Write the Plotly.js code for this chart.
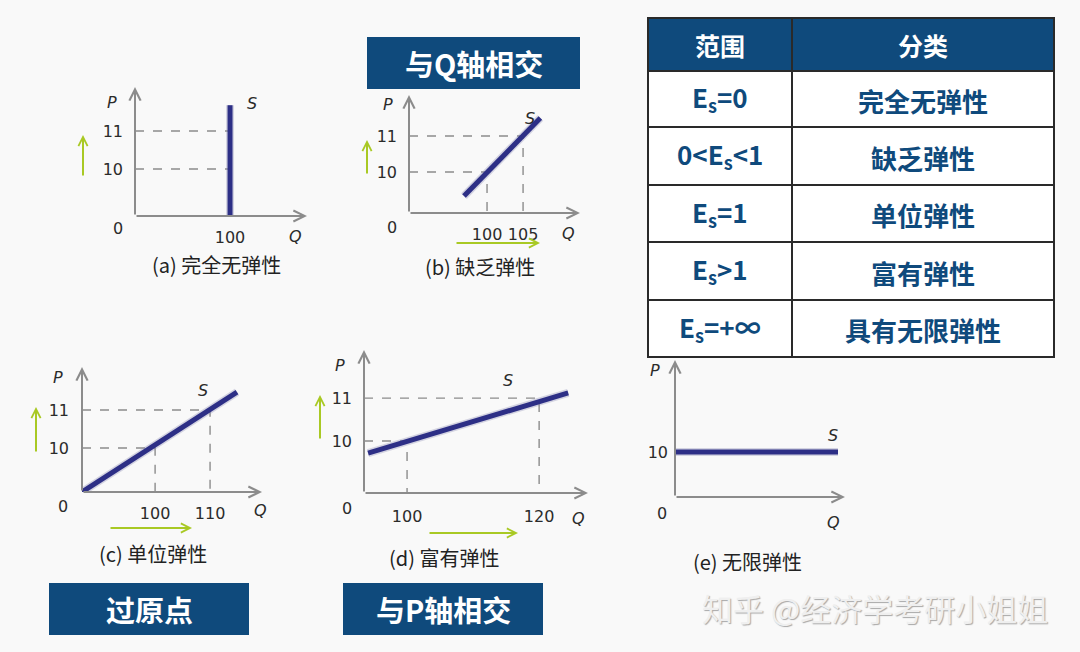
<!DOCTYPE html>
<html><head><meta charset="utf-8">
<script src="https://cdn.plot.ly/plotly-3.0.1.min.js"></script>
<style>html,body{margin:0;padding:0;background:#f9f9f9;} #chart{width:1080px;height:652px;}</style>
</head><body><div id="chart"></div>
<script>
// ---------- data ----------
// (a) 完全无弹性
const aSupplyQ = [100, 100];
const aSupplyP = [8.76, 11.68];
const aGuideQ = [100, 100];
const aGuideP = [10, 11];
const aQTicks = [100];
const aPTicks = [10, 11];
// (b) 缺乏弹性
const bSupplyQ = [96.8, 107.4];
const bSupplyP = [9.33, 11.5];
const bGuideQ = [100, 105];
const bGuideP = [10, 11];
const bQTicks = [100, 105];
const bPTicks = [10, 11];
// (c) 单位弹性
const cSupplyQ = [86.7, 114.9];
const cSupplyP = [8.84, 11.47];
const cGuideQ = [100, 110];
const cGuideP = [10, 11];
const cQTicks = [100, 110];
const cPTicks = [10, 11];
// (d) 富有弹性
const dSupplyQ = [94.1, 124.4];
const dSupplyP = [9.72, 11.12];
const dGuideQ = [100, 120];
const dGuideP = [10, 11];
const dQTicks = [100, 120];
const dPTicks = [10, 11];
// (e) 无限弹性
const eSupplyQ = [1, 163];
const eSupplyP = [10, 10];
const eGuideQ = [];
const eGuideP = [];
const eQTicks = [];
const ePTicks = [10];

const captions = ['(a) 完全无弹性', '(b) 缺乏弹性', '(c) 单位弹性', '(d) 富有弹性', '(e) 无限弹性'];
const tableHeader = ['范围', '分类'];
const tableRanges = ['E<sub>s</sub>=0', '0&lt;E<sub>s</sub>&lt;1', 'E<sub>s</sub>=1', 'E<sub>s</sub>&gt;1', 'E<sub>s</sub>=+∞'];
const tableTypes = ['完全无弹性', '缺乏弹性', '单位弹性', '富有弹性', '具有无限弹性'];
const boxLabels = ['与Q轴相交', '过原点', '与P轴相交'];
const watermark = '知乎 @经济学考研小姐姐';

// ---------- layout helpers ----------
const W = 1080, H = 652;
const px = v => v / W;
const py = v => 1 - v / H;
const NAVY = '#0f4a7c';
const SUPPLY = '#2d2f86';
const GRAY = '#8c8c8c';
const GREEN = '#a9c924';
const TXT = '#2b2b2b';
const CJK = 'Noto Sans CJK SC, sans-serif';
const LAT = 'DejaVu Sans, sans-serif';

const panels = [
  {q:aSupplyQ, p:aSupplyP, gq:aGuideQ, gp:aGuideP, qt:aQTicks, pt:aPTicks,
   qr:[0,181], pr:[8.76,12.16], f:{ox:135, oy:216, tx:307, ty:87},
   lP:[112,103], lS:[252,104], l0:[118,228], lQ:[295,236], cap:[216,264],
   gv:[83,177,135], gh:null, ps:11, qs:10},
  {q:bSupplyQ, p:bSupplyP, gq:bGuideQ, gp:bGuideP, qt:bQTicks, pt:bPTicks,
   qr:[89.17,112.9], pr:[8.86,12.14], f:{ox:409, oy:213, tx:580, ty:95},
   lP:[388,105], lS:[530,119], l0:[392,227], lQ:[568,233], cap:[480,266],
   gv:[367,175,140], gh:[243,455,540], ps:11, qs:10},
  {q:cSupplyQ, p:cSupplyP, gq:cGuideQ, gp:cGuideP, qt:cQTicks, pt:cPTicks,
   qr:[86.7,119.45], pr:[8.84,12.13], f:{ox:82, oy:492, tx:262, ty:367},
   lP:[58,377], lS:[203,390], l0:[63,507], lQ:[260,510], cap:[153,553],
   gv:[36,453,407], gh:[528,109,192], ps:12, qs:10},
  {q:dSupplyQ, p:dSupplyP, gq:dGuideQ, gp:dGuideP, qt:dQTicks, pt:dPTicks,
   qr:[93.48,127.4], pr:[8.79,12.12], f:{ox:364, oy:493, tx:588, ty:350},
   lP:[340,365], lS:[508,380], l0:[347,508], lQ:[578,518], cap:[444,557],
   gv:[320,440,395], gh:[533,428,518], ps:11, qs:12},
  {q:eSupplyQ, p:eSupplyP, gq:eGuideQ, gp:eGuideP, qt:eQTicks, pt:ePTicks,
   qr:[0,170], pr:[8.82,12.42], f:{ox:675, oy:497, tx:845, ty:360},
   lP:[655,370], lS:[833,435], l0:[662,513], lQ:[833,522], cap:[748,561],
   gv:null, gh:null, ps:6, qs:10}
];

const traces = [];
const layout = {
  width: W, height: H, margin:{l:0,r:0,t:0,b:0},
  paper_bgcolor:'#f9f9f9', plot_bgcolor:'rgba(0,0,0,0)',
  showlegend:false, annotations:[], shapes:[]
};
const A = layout.annotations, S = layout.shapes;

function label(text, x, y, size, color, family, extra) {
  A.push(Object.assign({xref:'paper', yref:'paper', x:px(x), y:py(y), text:text, showarrow:false,
    xanchor:'center', yanchor:'middle', font:{size:size, color:color, family:family}}, extra||{}));
}

panels.forEach((P, i) => {
  const n = i + 1, s = n === 1 ? '' : String(n);
  const xa = 'x' + s, ya = 'y' + s;
  const tf = {family:LAT, size:16, color:TXT};
  layout['xaxis' + s] = {domain:[px(P.f.ox), px(P.f.tx)], range:P.qr, anchor:ya,
    showgrid:false, zeroline:false, showline:false, ticks:'', tickvals:P.qt,
    showticklabels:P.qt.length>0, ticklabelstandoff:P.qs, tickfont:tf, fixedrange:true};
  layout['yaxis' + s] = {domain:[py(P.f.oy), py(P.f.ty)], range:P.pr, anchor:xa,
    showgrid:false, zeroline:false, showline:false, ticks:'', tickvals:P.pt,
    ticklabelstandoff:P.ps, tickfont:tf, fixedrange:true};
  // dashed guides
  P.gq.forEach((q, k) => {
    traces.push({type:'scatter', mode:'lines', xaxis:xa, yaxis:ya, hoverinfo:'skip',
      x:[P.qr[0], q, q], y:[P.gp[k], P.gp[k], P.pr[0]], cliponaxis:false,
      line:{color:GRAY, width:1.4, dash:'dash'}});
  });
  // supply curve halo + line
  traces.push({type:'scatter', mode:'lines', xaxis:xa, yaxis:ya, hoverinfo:'skip', cliponaxis:false,
    x:P.q, y:P.p, line:{color:'rgba(140,140,180,0.35)', width:8}});
  traces.push({type:'scatter', mode:'lines', xaxis:xa, yaxis:ya, cliponaxis:false,
    x:P.q, y:P.p, line:{color:SUPPLY, width:5}});
  // axis arrows
  A.push({xref:xa, yref:ya, axref:xa, ayref:ya, x:P.qr[1], y:P.pr[0], ax:P.qr[0], ay:P.pr[0],
    text:'', showarrow:true, arrowhead:5, arrowsize:1.1, arrowwidth:2, arrowcolor:GRAY});
  A.push({xref:xa, yref:ya, axref:xa, ayref:ya, x:P.qr[0], y:P.pr[1], ax:P.qr[0], ay:P.pr[0],
    text:'', showarrow:true, arrowhead:5, arrowsize:1.1, arrowwidth:2, arrowcolor:GRAY});
  // green arrows
  if (P.gv) A.push({xref:'paper', yref:'paper', axref:'paper', ayref:'paper',
    x:px(P.gv[0]), y:py(P.gv[2]), ax:px(P.gv[0]), ay:py(P.gv[1]),
    text:'', showarrow:true, arrowhead:5, arrowsize:0.9, arrowwidth:2, arrowcolor:GREEN});
  if (P.gh) A.push({xref:'paper', yref:'paper', axref:'paper', ayref:'paper',
    x:px(P.gh[2]), y:py(P.gh[0]), ax:px(P.gh[1]), ay:py(P.gh[0]),
    text:'', showarrow:true, arrowhead:5, arrowsize:0.9, arrowwidth:2, arrowcolor:GREEN});
  // labels
  label('<i>P</i>', P.lP[0], P.lP[1], 16, TXT, LAT);
  label('<i>S</i>', P.lS[0], P.lS[1], 16, TXT, LAT);
  label('<i>Q</i>', P.lQ[0], P.lQ[1], 16, TXT, LAT);
  label('0', P.l0[0], P.l0[1], 16, TXT, LAT);
  label(captions[i], P.cap[0], P.cap[1], 20, '#222', CJK);
});

// ---------- table ----------
const tL = 648, tR = 1054, tMid = 792;
const rowsY = [18, 71, 127, 185, 242, 300, 357];
S.push({type:'rect', xref:'paper', yref:'paper', x0:px(tL), x1:px(tR), y0:py(rowsY[0]), y1:py(rowsY[1]),
  fillcolor:NAVY, line:{width:0}});
S.push({type:'rect', xref:'paper', yref:'paper', x0:px(tL), x1:px(tR), y0:py(rowsY[1]), y1:py(rowsY[6]),
  fillcolor:'#ffffff', line:{width:0}});
rowsY.slice(1, 6).forEach(y => S.push({type:'line', xref:'paper', yref:'paper', x0:px(tL), x1:px(tR),
  y0:py(y), y1:py(y), line:{color:'#2a2a2a', width:2}}));
S.push({type:'line', xref:'paper', yref:'paper', x0:px(tMid), x1:px(tMid), y0:py(rowsY[0]), y1:py(rowsY[6]),
  line:{color:'#2a2a2a', width:2}});
S.push({type:'rect', xref:'paper', yref:'paper', x0:px(tL), x1:px(tR), y0:py(rowsY[0]), y1:py(rowsY[6]),
  line:{color:'#2a2a2a', width:2}});
const c1 = (tL + tMid) / 2, c2 = (tMid + tR) / 2;
label('<b>' + tableHeader[0] + '</b>', c1, (rowsY[0] + rowsY[1]) / 2, 25, '#ffffff', CJK);
label('<b>' + tableHeader[1] + '</b>', c2, (rowsY[0] + rowsY[1]) / 2, 25, '#ffffff', CJK);
tableRanges.forEach((t, k) => {
  const yc = (rowsY[k + 1] + rowsY[k + 2]) / 2;
  label('<b>' + t + '</b>', c1, yc - 1, 26, NAVY, CJK);
  label('<b>' + tableTypes[k] + '</b>', c2, yc + 1, 26, NAVY, CJK);
});

// ---------- title boxes ----------
const boxes = [[367, 580, 37, 89], [49, 249, 583, 635], [343, 543, 583, 635]];
boxes.forEach((b, k) => {
  S.push({type:'rect', xref:'paper', yref:'paper', x0:px(b[0]), x1:px(b[1]), y0:py(b[2]), y1:py(b[3]),
    fillcolor:NAVY, line:{width:0}});
  label('<b>' + boxLabels[k] + '</b>', (b[0] + b[1]) / 2, (b[2] + b[3]) / 2, 29, '#ffffff', CJK);
});

// ---------- watermark ----------
label(watermark, 875, 607, 31, '#efefef', CJK, {font:{size:31, color:'#efefef', family:CJK, shadow:'1px 1px 1px #a8a8a8'}});

Plotly.newPlot('chart', traces, layout, {staticPlot:true, displayModeBar:false});
</script></body></html>
